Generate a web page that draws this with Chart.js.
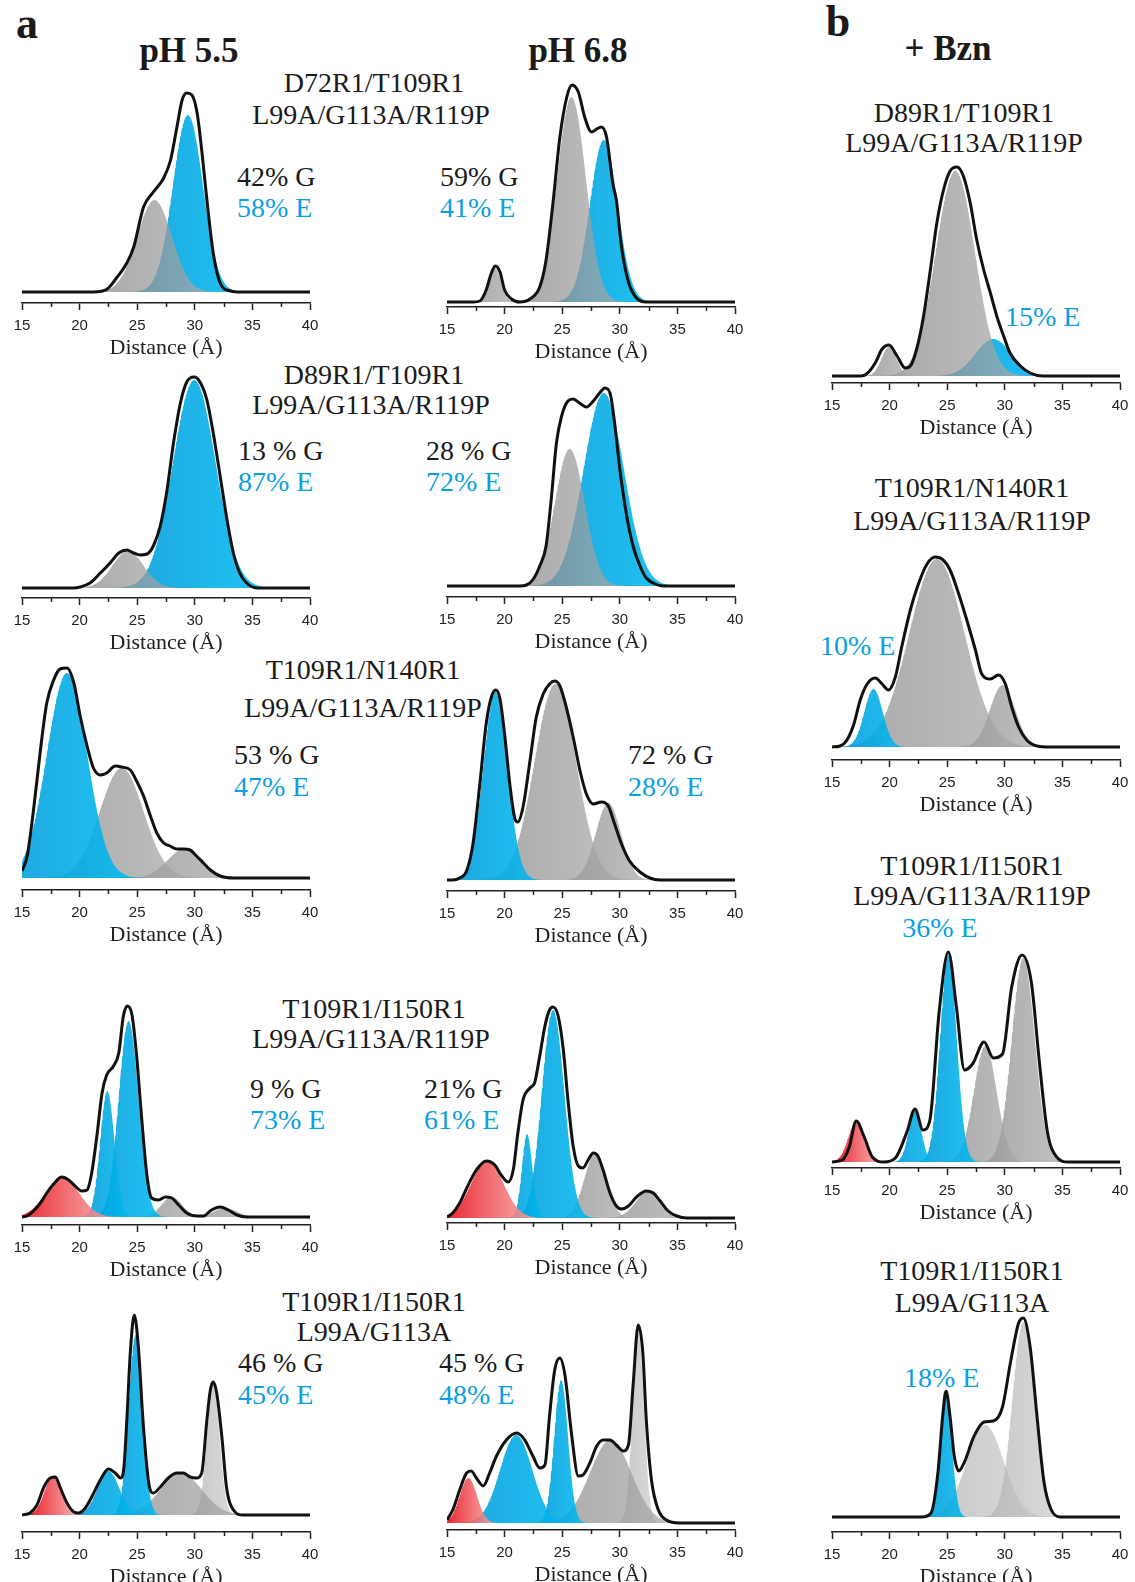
<!DOCTYPE html>
<html>
<head>
<meta charset="utf-8">
<script src="https://cdn.jsdelivr.net/npm/chart.js@4.4.0/dist/chart.umd.min.js"></script>
<style>
body { margin: 0; background: #fff; width: 1135px; height: 1582px; position: relative; overflow: hidden;
       font-family: 'Liberation Serif', 'Times New Roman', serif; color: #1a1a1a; }
canvas { position: absolute; }
.t { position: absolute; white-space: nowrap; font-size: 28px; line-height: 1; transform: translateY(-50%); }
.c { transform: translate(-50%, -50%); }
.e { color: #0aa0df; }
.big { font-weight: bold; font-size: 35px; }
.tag { font-weight: bold; font-size: 44px; }
</style>
</head>
<body>

<div class="t tag c" style="left:27px;top:24px">a</div>
<div class="t tag c" style="left:838px;top:22px">b</div>
<div class="t big c" style="left:189px;top:50px">pH 5.5</div>
<div class="t big c" style="left:578px;top:50px">pH 6.8</div>
<div class="t big c" style="left:948px;top:48px">+ Bzn</div>

<div class="t c" style="left:374px;top:83px">D72R1/T109R1</div>
<div class="t c" style="left:371px;top:115px">L99A/G113A/R119P</div>
<div class="t" style="left:237px;top:177px">42% G</div>
<div class="t e" style="left:237px;top:208px">58% E</div>
<div class="t" style="left:440px;top:177px">59% G</div>
<div class="t e" style="left:440px;top:208px">41% E</div>

<div class="t c" style="left:964px;top:113px">D89R1/T109R1</div>
<div class="t c" style="left:964px;top:143px">L99A/G113A/R119P</div>
<div class="t e" style="left:1005px;top:317px">15% E</div>

<div class="t c" style="left:374px;top:375px">D89R1/T109R1</div>
<div class="t c" style="left:371px;top:405px">L99A/G113A/R119P</div>
<div class="t" style="left:238px;top:451px">13 % G</div>
<div class="t e" style="left:238px;top:482px">87% E</div>
<div class="t" style="left:426px;top:451px">28 % G</div>
<div class="t e" style="left:426px;top:482px">72% E</div>

<div class="t c" style="left:972px;top:488px">T109R1/N140R1</div>
<div class="t c" style="left:972px;top:521px">L99A/G113A/R119P</div>
<div class="t e" style="left:820px;top:646px">10% E</div>

<div class="t c" style="left:363px;top:670px">T109R1/N140R1</div>
<div class="t c" style="left:363px;top:708px">L99A/G113A/R119P</div>
<div class="t" style="left:234px;top:755px">53 % G</div>
<div class="t e" style="left:234px;top:787px">47% E</div>
<div class="t" style="left:628px;top:755px">72 % G</div>
<div class="t e" style="left:628px;top:787px">28% E</div>

<div class="t c" style="left:972px;top:866px">T109R1/I150R1</div>
<div class="t c" style="left:972px;top:896px">L99A/G113A/R119P</div>
<div class="t e c" style="left:940px;top:928px">36% E</div>

<div class="t c" style="left:374px;top:1009px">T109R1/I150R1</div>
<div class="t c" style="left:371px;top:1039px">L99A/G113A/R119P</div>
<div class="t" style="left:250px;top:1089px">9 % G</div>
<div class="t e" style="left:250px;top:1120px">73% E</div>
<div class="t" style="left:424px;top:1089px">21% G</div>
<div class="t e" style="left:424px;top:1120px">61% E</div>

<div class="t c" style="left:972px;top:1271px">T109R1/I150R1</div>
<div class="t c" style="left:972px;top:1303px">L99A/G113A</div>
<div class="t e" style="left:904px;top:1378px">18% E</div>

<div class="t c" style="left:374px;top:1302px">T109R1/I150R1</div>
<div class="t c" style="left:374px;top:1332px">L99A/G113A</div>
<div class="t" style="left:238px;top:1363px">46 % G</div>
<div class="t e" style="left:238px;top:1395px">45% E</div>
<div class="t" style="left:439px;top:1363px">45 % G</div>
<div class="t e" style="left:439px;top:1395px">48% E</div>

<script>
// distance axis (Å)
var distTicks = [15, 20, 25, 30, 35, 40];
var distMinor = [17.5, 22.5, 27.5, 32.5, 37.5];

// fitted components: [centre (Å), width (Å), amplitude, state]  G = gray, L = light gray, E = blue, R = red
// totals: measured distance distribution [r (Å), P(r)]
var d72ph55Parts = [[26.5, 1.5, 92, 'G'], [29.4, 1.3, 177, 'E']];
var d72ph55Total = [[15,0],[21.2,0],[22.4,3],[23.2,14],[24.1,29],[24.7,45],[25.55,85],[26.4,100],[27.3,114],[27.9,132],[28.45,165],[28.9,192],[29.3,199],[29.75,197],[30.2,179],[30.6,142],[31.05,92],[31.6,39],[32.2,9],[33.1,1],[34,0],[40,0]];

var d72ph68Parts = [[19.15, 0.55, 34, 'G'], [25.8, 1.25, 205, 'G'], [28.6, 1.2, 162, 'E']];
var d72ph68Total = [[15,0],[17.3,0],[17.85,1],[18.4,12],[18.85,29],[19.2,36],[19.6,30],[20.0,12],[20.6,3],[21.3,0],[22.2,3],[23.05,15],[23.6,42],[24.2,99],[24.8,165],[25.4,205],[25.85,217],[26.4,210],[26.95,185],[27.55,170],[28.0,173],[28.4,175],[28.85,165],[29.4,118],[29.7,102],[30.15,55],[30.75,20],[31.45,4],[32.3,0],[40,0]];

var d89bznParts = [[19.95, 0.65, 29, 'G'], [25.7, 1.7, 205, 'G'], [29.0, 1.55, 37, 'E']];
var d89bznTotal = [[15,0],[17.5,0],[18.0,2],[18.75,13],[19.35,27],[19.95,31],[20.65,20],[21.35,8],[21.8,10],[22.35,27],[22.95,60],[23.55,107],[24.1,153],[24.7,187],[25.25,205],[25.85,209],[26.4,200],[27.0,173],[27.55,137],[28.15,107],[28.75,83],[29.3,60],[29.9,40],[30.45,23],[31.35,10],[32.2,3],[33.3,0],[40,0]];

var d89ph55Parts = [[24.2, 1.35, 37, 'G'], [29.95, 1.85, 208, 'E']];
var d89ph55Total = [[15,0],[19.5,0],[20.05,1],[20.9,5],[21.8,15],[22.65,25],[23.4,35],[24.1,38],[24.7,35],[25.25,33],[25.85,34],[26.4,42],[27.0,62],[27.55,95],[28.15,145],[28.75,185],[29.3,206],[29.95,211],[30.45,206],[31.05,188],[31.6,155],[32.2,112],[32.8,68],[33.35,35],[33.9,15],[34.5,5],[35.4,0],[40,0]];

var d89ph68Parts = [[25.65, 1.3, 137, 'G'], [28.6, 1.75, 193, 'E']];
var d89ph68Total = [[15,0],[21.3,0],[21.9,1],[22.5,7],[23.05,20],[23.6,40],[24.05,87],[24.5,143],[24.95,170],[25.5,185],[25.95,187],[26.5,183],[27.1,179],[27.7,185],[28.25,193],[28.7,198],[29.15,193],[29.55,163],[30.0,117],[30.6,70],[31.15,40],[31.75,20],[32.3,8],[32.9,3],[33.8,0],[40,0]];

var n140bznParts = [[18.6, 0.8, 58, 'E'], [24.1, 2.4, 188, 'G'], [29.8, 1.1, 62, 'G']];
var n140bznTotal = [[15,0],[15.7,1],[16.3,7],[16.9,23],[17.45,47],[18.05,63],[18.75,69],[19.35,63],[19.9,57],[20.5,70],[21.05,100],[21.8,137],[22.5,163],[23.25,183],[23.95,190],[24.55,188],[25.25,177],[26.0,153],[26.7,127],[27.45,97],[28.0,73],[28.75,68],[29.45,72],[30.05,63],[30.6,40],[31.2,20],[31.9,7],[32.8,1],[33.9,0],[40,0]];

var n140ph55Parts = [[18.9, 1.75, 205, 'E'], [23.65, 1.9, 110, 'G'], [29.1, 1.5, 29, 'G']];
var n140ph55Total = [[15,7],[15.45,22],[16.0,68],[16.6,128],[17.15,175],[17.75,198],[18.3,209],[18.9,210],[19.5,195],[20.05,162],[20.65,132],[21.2,110],[21.8,103],[22.35,105],[23.1,112],[23.65,111],[24.4,108],[24.95,97],[25.55,82],[26.15,62],[26.7,45],[27.3,35],[27.85,32],[28.45,29],[29.0,29],[29.6,28],[30.15,22],[30.75,15],[31.35,8],[32.2,2],[33.4,0],[40,0]];

var n140ph68Parts = [[19.2, 1.05, 188, 'E'], [24.4, 1.8, 196, 'G'], [29.0, 1.1, 77, 'G']];
var n140ph68Total = [[15,0],[15.5,0],[16.1,2],[16.7,9],[17.25,36],[17.85,96],[18.4,156],[18.85,183],[19.25,190],[19.6,181],[20.0,146],[20.45,96],[20.9,61],[21.15,58],[21.6,73],[22.2,119],[22.75,163],[23.35,186],[23.9,196],[24.35,199],[24.8,194],[25.35,173],[25.95,143],[26.55,109],[27.1,86],[27.7,76],[28.4,78],[29.0,74],[29.55,56],[30.15,36],[30.85,19],[31.75,8],[32.6,2],[33.5,0],[40,0]];

var i150bznParts = [[17.1, 0.7, 40, 'R'], [22.2, 0.55, 52, 'E'], [25.1, 0.72, 207, 'E'], [28.3, 1.0, 116, 'G'], [31.6, 1.0, 204, 'G']];
var i150bznTotal = [[15,0],[15.9,2],[16.5,15],[17.1,41],[17.8,25],[18.5,5],[19.5,0],[20.5,4],[21.5,30],[22.2,53],[22.9,32],[23.5,42],[24.3,150],[25.1,210],[25.8,155],[26.5,92],[27.2,98],[28.2,120],[29.0,104],[29.8,108],[30.6,175],[31.5,207],[32.3,180],[33.0,100],[33.7,30],[34.5,5],[35.5,0],[40,0]];

var i150ph55Parts = [[18.5, 1.45, 40, 'R'], [22.4, 0.62, 126, 'E'], [24.25, 0.87, 196, 'E'], [28.0, 0.9, 20, 'G'], [32.65, 1.0, 9, 'G']];
var i150ph55Total = [[15,0],[15.45,1],[16.0,6],[16.6,14],[17.15,24],[17.75,33],[18.45,40],[19.05,37],[19.6,31],[20.2,26],[20.65,27],[21.05,44],[21.5,81],[21.95,124],[22.35,142],[22.95,151],[23.4,164],[23.8,201],[24.15,211],[24.55,202],[24.95,161],[25.4,97],[25.85,41],[26.25,19],[26.85,17],[27.45,20],[28.0,19],[28.6,12],[29.3,4],[30.2,1],[30.75,1],[31.45,7],[32.2,10],[32.9,7],[33.65,2],[34.5,0],[40,0]];

var i150ph68Parts = [[18.5, 1.4, 57, 'R'], [21.95, 0.45, 84, 'E'], [24.2, 0.98, 208, 'E'], [27.85, 0.95, 64, 'G'], [32.5, 1.1, 27, 'G']];
var i150ph68Total = [[15,1],[15.5,5],[16.1,15],[16.8,32],[17.55,48],[18.4,57],[19.15,53],[19.7,43],[20.3,36],[20.75,48],[21.15,85],[21.6,118],[22.2,130],[22.6,135],[23.05,162],[23.5,192],[23.9,208],[24.2,211],[24.65,202],[25.1,168],[25.5,118],[25.95,72],[26.4,52],[26.8,50],[27.25,58],[27.7,65],[28.1,62],[28.55,48],[29.15,25],[29.7,12],[30.15,9],[30.75,12],[31.45,21],[32.3,27],[32.9,25],[33.5,17],[34.2,7],[34.95,2],[35.8,0],[40,0]];

var g113bznParts = [[24.9, 0.5, 124, 'E'], [28.3, 1.6, 92, 'L'], [31.6, 0.95, 195, 'L']];
var g113bznTotal = [[15,0],[22.8,0],[23.6,4],[24.2,45],[24.6,100],[24.9,126],[25.25,100],[25.6,62],[26.0,46],[26.5,55],[27.3,80],[28.2,95],[29.0,96],[29.8,110],[30.5,155],[31.2,194],[31.6,199],[32.2,170],[32.8,100],[33.4,35],[34.0,8],[34.8,0],[40,0]];

var g113ph55Parts = [[17.65, 0.72, 38, 'R'], [22.5, 0.95, 44, 'E'], [24.85, 0.6, 180, 'E'], [28.8, 1.8, 42, 'G'], [31.6, 0.55, 130, 'L']];
var g113ph55Total = [[15,0],[15.7,2],[16.3,10],[16.9,28],[17.45,37],[17.9,38],[18.3,28],[18.9,12],[19.5,3],[19.9,2],[20.5,7],[21.05,18],[21.8,35],[22.5,46],[23.1,42],[23.55,37],[23.85,48],[24.1,95],[24.4,162],[24.75,200],[25.1,168],[25.5,95],[26.0,32],[26.4,22],[27.0,28],[27.7,37],[28.45,42],[29.0,42],[29.6,38],[30.15,37],[30.6,42],[31.05,95],[31.35,125],[31.6,133],[31.9,122],[32.35,78],[32.75,28],[33.35,5],[34.2,0],[40,0]];

var g113ph68Parts = [[16.85, 0.75, 45, 'R'], [21.0, 1.4, 88, 'E'], [24.9, 0.6, 143, 'E'], [29.2, 1.8, 83, 'G'], [31.6, 0.5, 190, 'L']];
var g113ph68Total = [[15,3],[15.5,13],[16.1,33],[16.7,50],[17.1,52],[17.55,45],[18.15,37],[18.7,50],[19.3,67],[20.15,83],[21.05,90],[21.75,83],[22.45,67],[23.05,55],[23.5,58],[23.9,107],[24.35,153],[24.8,165],[25.25,147],[25.8,90],[26.4,47],[26.8,48],[27.4,60],[28.0,77],[28.55,83],[29.15,83],[29.7,78],[30.3,72],[30.75,78],[31.15,137],[31.6,198],[32.0,170],[32.3,103],[32.75,43],[33.35,13],[34.05,3],[35.2,0],[40,0]];

// where each panel sits on the page
var panels = [
  { parts: d72ph55Parts, total: d72ph55Total, left: 1.7, axis: 303, gap: 11 },
  { parts: d72ph68Parts, total: d72ph68Total, left: 427.3, axis: 307, gap: 5 },
  { parts: d89bznParts, total: d89bznTotal, left: 811.7, axis: 383, gap: 7 },
  { parts: d89ph55Parts, total: d89ph55Total, left: 1.7, axis: 598, gap: 10 },
  { parts: d89ph68Parts, total: d89ph68Total, left: 427.3, axis: 597, gap: 11 },
  { parts: n140bznParts, total: n140bznTotal, left: 811.7, axis: 760, gap: 13 },
  { parts: n140ph55Parts, total: n140ph55Total, left: 1.7, axis: 890, gap: 12 },
  { parts: n140ph68Parts, total: n140ph68Total, left: 427.3, axis: 891, gap: 11 },
  { parts: i150bznParts, total: i150bznTotal, left: 811.7, axis: 1168, gap: 6 },
  { parts: i150ph55Parts, total: i150ph55Total, left: 1.7, axis: 1225, gap: 8 },
  { parts: i150ph68Parts, total: i150ph68Total, left: 427.3, axis: 1223, gap: 5 },
  { parts: g113bznParts, total: g113bznTotal, left: 811.7, axis: 1532, gap: 15 },
  { parts: g113ph55Parts, total: g113ph55Total, left: 1.7, axis: 1532, gap: 17 },
  { parts: g113ph68Parts, total: g113ph68Total, left: 427.3, axis: 1530, gap: 7 }
];

var HEAD = 240, AXIS_H = 58, PAD = 20, PLOT_W = 288;

var palette = {
  G: ['rgba(140,140,140,0.72)', 'rgba(165,165,165,0.72)'],
  L: ['rgba(165,165,165,0.6)', 'rgba(190,190,190,0.6)'],
  E: ['rgba(0,158,220,0.88)', 'rgba(0,182,238,0.88)'],
  R: ['rgba(232,22,32,0.92)', 'rgba(246,150,150,0.85)']
};

// r grid the fitted Gaussians are evaluated on
var rGrid = [];
for (var i = 0; i <= 500; i++) rGrid.push(15 + i * 0.05);

function shade(ctx, part) {
  var chart = ctx.chart;
  if (!chart.chartArea) return 'rgba(0,0,0,0)';
  var sx = chart.scales.x;
  var g = chart.ctx.createLinearGradient(sx.getPixelForValue(part[0] - 2.5 * part[1]), 0,
                                         sx.getPixelForValue(part[0] + 2.5 * part[1]), 0);
  g.addColorStop(0, palette[part[3]][0]);
  g.addColorStop(1, palette[part[3]][1]);
  return g;
}

// shorter ticks halfway between the labelled ones
var minorTicks = {
  id: 'minorTicks',
  afterDraw: function (chart) {
    var c = chart.ctx, sx = chart.scales.x, y = chart.chartArea.bottom;
    c.save();
    c.strokeStyle = '#222';
    c.lineWidth = 1.5;
    distMinor.forEach(function (v) {
      var x = Math.round(sx.getPixelForValue(v)) + 0.5;
      c.beginPath();
      c.moveTo(x, y);
      c.lineTo(x, y + 4);
      c.stroke();
    });
    c.restore();
  }
};

function makePanel(p) {
  var cv = document.createElement('canvas');
  cv.width = PAD * 2 + PLOT_W;
  cv.height = HEAD + AXIS_H;
  cv.style.left = p.left + 'px';
  cv.style.top = (p.axis - HEAD) + 'px';
  document.body.appendChild(cv);

  var datasets = [{
    data: p.total.map(function (pt) { return { x: pt[0], y: pt[1] }; }),
    borderColor: '#111',
    borderWidth: 3,
    pointRadius: 0,
    fill: false,
    cubicInterpolationMode: 'monotone'
  }];
  p.parts.forEach(function (part) {
    datasets.push({
      data: rGrid.map(function (r) {
        var z = (r - part[0]) / part[1];
        return { x: r, y: part[2] * Math.exp(-0.5 * z * z) };
      }),
      borderWidth: 0,
      pointRadius: 0,
      fill: 'origin',
      backgroundColor: function (ctx) { return shade(ctx, part); }
    });
  });

  new Chart(cv, {
    type: 'line',
    data: { datasets: datasets },
    options: {
      responsive: false,
      animation: false,
      devicePixelRatio: 1,
      events: [],
      layout: { padding: { left: PAD, right: PAD, top: 0, bottom: 0 } },
      plugins: { legend: { display: false }, tooltip: { enabled: false } },
      scales: {
        x: {
          type: 'linear',
          min: 15,
          max: 40,
          afterBuildTicks: function (s) { s.ticks = distTicks.map(function (v) { return { value: v }; }); },
          afterFit: function (s) { s.height = AXIS_H; },
          ticks: {
            autoSkip: false,
            maxRotation: 0,
            padding: 7,
            color: '#222',
            font: { family: "'Liberation Sans', Arial, sans-serif", size: 15 }
          },
          grid: { drawOnChartArea: false, drawTicks: true, tickLength: 7, tickColor: '#222', tickWidth: 1.5 },
          border: { display: true, color: '#222', width: 1.5 },
          title: {
            display: true,
            text: 'Distance (Å)',
            color: '#222',
            padding: 0,
            font: { family: "'Liberation Serif', 'Times New Roman', serif", size: 22 }
          }
        },
        y: { display: false, min: -p.gap, max: HEAD - p.gap }
      }
    },
    plugins: [minorTicks]
  });
}

panels.forEach(makePanel);
</script>
</body>
</html>
